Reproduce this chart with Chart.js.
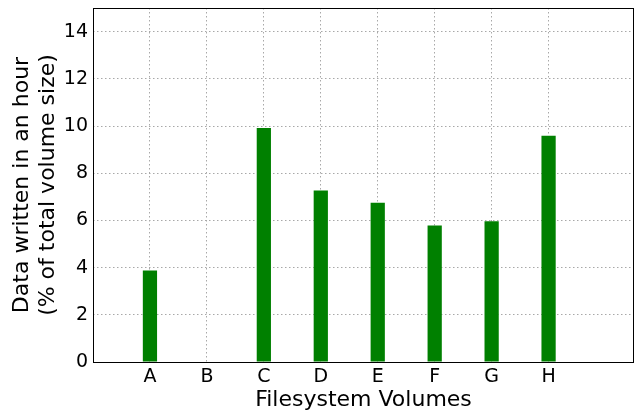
<html>
<head>
  <script src="https://cdn.jsdelivr.net/npm/chart.js"></script>
  <style>
    body { margin: 0; background: #fff; }
    #wrap { width: 636px; height: 411px; }
  </style>
  <script>
    // volumes and hourly write share (% of volume size)
    let volumes = ['A', 'B', 'C', 'D', 'E', 'F', 'G', 'H'];
    let written = [3.88, 0, 9.92, 7.27, 6.75, 5.78, 5.96, 9.59];
    let yTicks = [0, 2, 4, 6, 8, 10, 12, 14];

    let tickFont = { family: 'DejaVu Sans', size: 19 };
    let titleFont = { family: 'DejaVu Sans', size: 22, lineHeight: 1.15 };

    // matplotlib style frame round the plot area
    let boxPlugin = {
      id: 'box',
      afterDraw: function (chart) {
        let a = chart.chartArea;
        let ctx = chart.ctx;
        ctx.save();
        ctx.strokeStyle = '#000';
        ctx.lineWidth = 1;
        ctx.strokeRect(Math.round(a.left) + 0.5, Math.round(a.top) + 0.5,
          Math.round(a.right - a.left) - 1, Math.round(a.bottom - a.top));
        ctx.restore();
      }
    };

    function renderChart() {
      new Chart(document.getElementById('myChart'), {
        type: 'bar',
        data: {
          datasets: [{
            data: volumes.map((v, i) => ({ x: i, y: written[i] })),
            backgroundColor: '#008000',
            borderWidth: 0,
            barPercentage: 0.25,
            categoryPercentage: 1
          }]
        },
        options: {
          responsive: false,
          animation: false,
          layout: { padding: { top: 8, right: 2, left: 0, bottom: 0 } },
          plugins: { legend: { display: false }, tooltip: { enabled: false } },
          scales: {
            x: {
              type: 'linear',
              min: -1,
              max: 8.5,
              offset: false,
              z: 1,
              afterBuildTicks: function (s) {
                s.ticks = volumes.map((v, i) => ({ value: i }));
              },
              afterFit: function (s) {
                s.height = 49;
                s.paddingLeft = 0;
                s.paddingRight = 0;
              },
              ticks: {
                callback: function (v) { return volumes[v]; },
                font: tickFont,
                color: '#000',
                padding: 4,
                maxRotation: 0,
                autoSkip: false
              },
              grid: { color: '#a8a8a8', lineWidth: 1, drawTicks: false, offset: false },
              border: { display: false, dash: [1.5, 2.5] },
              title: {
                display: true,
                text: 'Filesystem Volumes',
                font: { family: 'DejaVu Sans', size: 22, lineHeight: 1.0 },
                color: '#000',
                padding: { top: 0, bottom: 0 }
              }
            },
            y: {
              min: 0,
              max: 15,
              z: 1,
              afterBuildTicks: function (s) {
                s.ticks = yTicks.map(v => ({ value: v }));
              },
              afterFit: function (s) {
                s.width = 93;
                s.paddingTop = 0;
                s.paddingBottom = 0;
              },
              ticks: { font: tickFont, color: '#000', padding: 5 },
              grid: { color: '#a8a8a8', lineWidth: 1, drawTicks: false },
              border: { display: false, dash: [1.5, 2.5] },
              title: {
                display: true,
                text: ['Data written in an hour', '(% of total volume size)'],
                font: titleFont,
                color: '#000',
                padding: { top: 10, bottom: 0 }
              }
            }
          }
        },
        plugins: [boxPlugin]
      });
    }
  </script>
</head>
<body onload="renderChart()">
  <div id="wrap"><canvas id="myChart" width="636" height="411"></canvas></div>
</body>
</html>
